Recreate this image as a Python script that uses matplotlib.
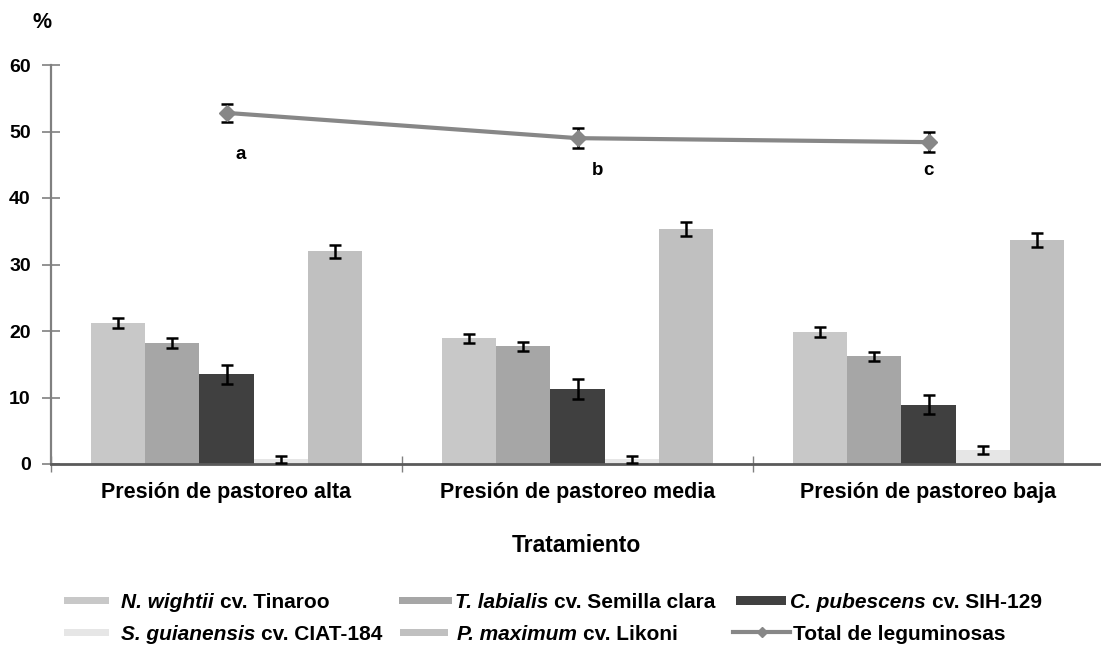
import numpy as np
import matplotlib
matplotlib.use("Agg")
import matplotlib.pyplot as plt
from matplotlib.patches import Rectangle
from matplotlib.lines import Line2D

plt.rcParams["font.family"] = ["Liberation Sans", "DejaVu Sans"]
plt.rcParams["font.weight"] = "bold"

# ---- data -------------------------------------------------------------
treatments = ["Presión de pastoreo alta", "Presión de pastoreo media", "Presión de pastoreo baja"]

n_wightii = [21.2, 18.9, 19.9]
n_wightii_err = [0.75, 0.65, 0.75]
t_labialis = [18.2, 17.7, 16.2]
t_labialis_err = [0.7, 0.7, 0.7]
c_pubescens = [13.5, 11.3, 8.9]
c_pubescens_err = [1.4, 1.5, 1.45]
s_guianensis = [0.7, 0.7, 2.1]
s_guianensis_err = [0.5, 0.5, 0.6]
p_maximum = [32.0, 35.3, 33.7]
p_maximum_err = [1.0, 1.05, 1.0]

total_leg = [52.8, 49.0, 48.4]
total_leg_err = [1.4, 1.5, 1.45]
letters = ["a", "b", "c"]

species = ["N. wightii", "T. labialis", "C. pubescens", "S. guianensis", "P. maximum"]
cultivars = ["cv. Tinaroo", "cv. Semilla clara", "cv. SIH-129", "cv. CIAT-184", "cv. Likoni"]
total_label = "Total de leguminosas"

series = [n_wightii, t_labialis, c_pubescens, s_guianensis, p_maximum]
series_err = [n_wightii_err, t_labialis_err, c_pubescens_err, s_guianensis_err, p_maximum_err]
colors = ["#c8c8c8", "#a6a6a6", "#404040", "#e6e6e6", "#c0c0c0"]
line_color = "#878787"

W, H = 1101, 650

# ---- figure -----------------------------------------------------------
fig = plt.figure(figsize=(W / 100, H / 100), dpi=100)
ax = fig.add_axes([51 / W, 1 - 464 / H, 1053 / W, (464 - 65) / H])

x = np.arange(len(treatments))
bw = 0.154
for i, (vals, errs, col) in enumerate(zip(series, series_err, colors)):
    pos = x + (i - 2) * bw
    ax.bar(pos, vals, width=bw, color=col, edgecolor="none", zorder=2)
    ax.errorbar(pos, vals, yerr=errs, fmt="none", ecolor="black",
                elinewidth=1.8, capsize=4.3, capthick=1.8, zorder=3)

ax.errorbar(x, total_leg, yerr=total_leg_err, fmt="none", ecolor="black",
            elinewidth=1.8, capsize=4.3, capthick=1.8, zorder=3)
ax.plot(x, total_leg, color=line_color, lw=3, marker="D", markersize=8,
        markerfacecolor=line_color, markeredgecolor=line_color, zorder=4)

letter_pos = [(0.04, 46.5), (1.057, 44.2), (2.0, 44.2)]
for (lx, ly), t in zip(letter_pos, letters):
    ax.text(lx, ly, t, ha="center", va="center", fontsize=13.5, fontweight="bold")

ax.set_xlim(-0.5, 2.5)
ax.set_ylim(0, 60)
ax.set_yticks(np.arange(0, 61, 10))

ax.set_xticks(x)
ax.set_xticklabels(treatments, fontsize=15.5, fontweight="bold")
ax.set_xticks([-0.5, 0.5, 1.5], minor=True)
ax.tick_params(axis="x", which="major", length=0, pad=13)
ax.tick_params(axis="x", which="minor", direction="inout", length=11,
               width=1, color="#808080")
ax.tick_params(axis="y", direction="inout", length=13, width=1.2,
               color="#808080", labelsize=14, pad=8)
for lbl in ax.get_yticklabels():
    lbl.set_fontweight("bold")

for s in ("top", "right"):
    ax.spines[s].set_visible(False)
ax.spines["left"].set_color("#808080")
ax.spines["left"].set_linewidth(1.6)
ax.spines["bottom"].set_color("#5a5a5a")
ax.spines["bottom"].set_linewidth(2)

fig.text(42 / W, 1 - 23 / H, "%", ha="center", va="center",
         fontsize=15.5, fontweight="bold")
fig.text(576 / W, 1 - 546 / H, "Tratamiento", ha="center", va="center",
         fontsize=16.5, fontweight="bold")

# ---- legend: italic species name followed by upright cultivar ----------
renderer = fig.canvas.get_renderer()
LEG_FS = 15
# (handle left, handle right, text left, text baseline, handle centre) in pixels
slots = [(64, 109, 121, 608, 600), (399, 452, 455, 608, 600), (736, 786, 790, 608, 600),
         (64, 109, 121, 640, 632), (400, 448, 457, 640, 632), (733, 790, 793, 640, 632)]


def fx(px):
    return px / W


def fy(py):
    return 1 - py / H


for k in range(len(species)):
    hl, hr, tl, base, yc = slots[k]
    hh = 9 if k == 2 else 7
    fig.patches.append(Rectangle((fx(hl), fy(yc + hh / 2)), fx(hr - hl), hh / H,
                                 transform=fig.transFigure, facecolor=colors[k],
                                 edgecolor="none"))
    t1 = fig.text(fx(tl), fy(base), species[k], fontsize=LEG_FS,
                  fontweight="bold", fontstyle="italic", va="baseline")
    bb = t1.get_window_extent(renderer)
    fig.text(fx(bb.x1 + 6), fy(base), cultivars[k], fontsize=LEG_FS,
             fontweight="bold", va="baseline")

hl, hr, tl, base, yc = slots[5]
fig.lines.append(Line2D([fx(hl), fx((hl + hr) / 2), fx(hr)], [fy(yc)] * 3,
                        transform=fig.transFigure, color=line_color, lw=3,
                        marker="D", markersize=5, markevery=[1],
                        markerfacecolor=line_color, markeredgecolor=line_color))
fig.text(fx(tl), fy(base), total_label, fontsize=LEG_FS, fontweight="bold",
         va="baseline")

fig.savefig("out.png", dpi=100)
